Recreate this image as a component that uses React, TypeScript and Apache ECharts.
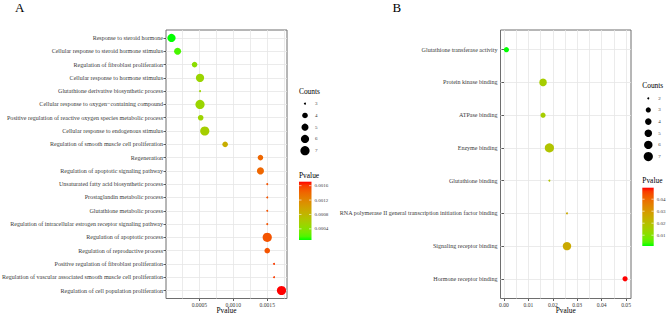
import React, { useEffect, useRef } from "react";
import * as echarts from "echarts";

// ---------- data ----------
const catsA = [
  "Response to steroid hormone",
  "Cellular response to steroid hormone stimulus",
  "Regulation of fibroblast proliferation",
  "Cellular response to hormone stimulus",
  "Glutathione derivative biosynthetic process",
  "Cellular response to oxygen−containing compound",
  "Positive regulation of reactive oxygen species metabolic process",
  "Cellular response to endogenous stimulus",
  "Regulation of smooth muscle cell proliferation",
  "Regeneration",
  "Regulation of apoptotic signaling pathway",
  "Unsaturated fatty acid biosynthetic process",
  "Prostaglandin metabolic process",
  "Glutathione metabolic process",
  "Regulation of intracellular estrogen receptor signaling pathway",
  "Regulation of apoptotic process",
  "Regulation of reproductive process",
  "Positive regulation of fibroblast proliferation",
  "Regulation of vascular associated smooth muscle cell proliferation",
  "Regulation of cell population proliferation",
];
const pvalA = [
  0.00009, 0.00018, 0.00043, 0.00051, 0.00051, 0.00051, 0.00052, 0.00058, 0.00088, 0.0014,
  0.0014, 0.0015, 0.0015, 0.0015, 0.0015, 0.0015, 0.0015, 0.0016, 0.0016, 0.00171,
];
const countA = [6, 5, 4, 6, 3, 7, 4, 7, 4, 4, 5, 3, 3, 3, 3, 7, 4, 3, 3, 7];

const catsB = [
  "Glutathione transferase activity",
  "Protein kinase binding",
  "ATPase binding",
  "Enzyme binding",
  "Glutathione binding",
  "RNA polymerase II general transcription initiation factor binding",
  "Signaling receptor binding",
  "Hormone receptor binding",
];
const pvalB = [0.001, 0.016, 0.016, 0.0186, 0.0186, 0.0258, 0.0258, 0.0496];
const countB = [3, 5, 3, 7, 2, 2, 6, 3];

const xTicksA = [0.0005, 0.001, 0.0015];
const xGridA = [0.00025, 0.0005, 0.00075, 0.001, 0.00125, 0.0015, 0.00175];
const xTicksB = [0, 0.01, 0.02, 0.03, 0.04, 0.05];
const xGridB = [0, 0.005, 0.01, 0.015, 0.02, 0.025, 0.03, 0.035, 0.04, 0.045, 0.05];

const sizeLegendA = [3, 4, 5, 6, 7];
const sizeLegendB = [2, 3, 4, 5, 6, 7];
const colorTicksA = [0.0004, 0.0008, 0.0012, 0.0016];
const colorTicksB = [0.01, 0.02, 0.03, 0.04];

// ---------- helpers ----------
const FONT = '"Liberation Serif", "DejaVu Serif", serif';

function toLin(c: number) {
  c /= 255;
  return c <= 0.04045 ? c / 12.92 : Math.pow((c + 0.055) / 1.055, 2.4);
}
function toSrgb(c: number) {
  const v = c <= 0.0031308 ? 12.92 * c : 1.055 * Math.pow(Math.max(c, 0), 1 / 2.4) - 0.055;
  return Math.round(Math.max(0, Math.min(1, v)) * 255);
}
function rgb2lab(rgb: number[]) {
  const R = toLin(rgb[0]), G = toLin(rgb[1]), B = toLin(rgb[2]);
  const X = (0.4124 * R + 0.3576 * G + 0.1805 * B) / 0.95047;
  const Y = 0.2126 * R + 0.7152 * G + 0.0722 * B;
  const Z = (0.0193 * R + 0.1192 * G + 0.9505 * B) / 1.08883;
  const f = (t: number) => (t > 0.008856 ? Math.cbrt(t) : 7.787 * t + 16 / 116);
  const fx = f(X), fy = f(Y), fz = f(Z);
  return [116 * fy - 16, 500 * (fx - fy), 200 * (fy - fz)];
}
function lab2rgb(lab: number[]) {
  const fy = (lab[0] + 16) / 116, fx = fy + lab[1] / 500, fz = fy - lab[2] / 200;
  const fi = (t: number) => {
    const t3 = t * t * t;
    return t3 > 0.008856 ? t3 : (t - 16 / 116) / 7.787;
  };
  const X = fi(fx) * 0.95047, Y = fi(fy), Z = fi(fz) * 1.08883;
  const R = 3.2406 * X - 1.5372 * Y - 0.4986 * Z;
  const G = -0.9689 * X + 1.8758 * Y + 0.0415 * Z;
  const B = 0.0557 * X - 0.204 * Y + 1.057 * Z;
  return `rgb(${toSrgb(R)},${toSrgb(G)},${toSrgb(B)})`;
}
const LOW = rgb2lab([0, 255, 0]);
const HIGH = rgb2lab([255, 0, 0]);
const NSTOP = 16;
const gradColors: string[] = [];
for (let i = 0; i <= NSTOP; i++) {
  const t = i / NSTOP;
  gradColors.push(lab2rgb([0, 1, 2].map((k) => LOW[k] + (HIGH[k] - LOW[k]) * t)));
}

function expand(arr: number[]) {
  const mn = Math.min(...arr), mx = Math.max(...arr);
  const r = mx - mn;
  return [mn - 0.05 * r, mx + 0.05 * r];
}
function sizeFn(c: number, cmin: number, cmax: number) {
  const s = 1 + 5 * Math.sqrt((c - cmin) / (cmax - cmin));
  return 0.5 + 1.45 * s;
}

const GRID_COLOR = "#e6e6e6";
const FRAME_COLOR = "#6e6e6e";
const TEXT_COLOR = "#3a3a3a";

function buildAxes(
  gridIndex: number,
  cats: string[],
  pvals: number[],
  ticks: number[],
  gridVals: number[],
  digits: number
) {
  const [xmin, xmax] = expand(pvals);
  const idx = cats.map((_, i) => i);
  const xGridAxis = {
    type: "value",
    gridIndex,
    position: "bottom",
    min: xmin,
    max: xmax,
    axisLine: { show: false },
    axisTick: { show: false, customValues: gridVals },
    axisLabel: { show: false },
    splitLine: { show: true, lineStyle: { color: GRID_COLOR, width: 0.8 } },
  };
  const xLabelAxis = {
    type: "value",
    gridIndex,
    position: "bottom",
    min: xmin,
    max: xmax,
    axisLine: { show: false },
    axisTick: { show: true, customValues: ticks, length: 2.5, lineStyle: { color: "#333", width: 0.8 } },
    axisLabel: {
      customValues: ticks,
      formatter: (v: number) => v.toFixed(digits),
      fontFamily: FONT,
      fontSize: 5.6,
      color: TEXT_COLOR,
      margin: 3,
    },
    splitLine: { show: false },
    name: "Pvalue",
    nameLocation: "middle",
    nameGap: 12.3,
    nameMoveOverlap: false,
    nameTextStyle: { fontFamily: FONT, fontSize: 7.3, color: "#000", verticalAlign: "middle" },
  };
  const yAxis = {
    type: "value",
    gridIndex,
    inverse: true,
    min: -0.6,
    max: cats.length - 1 + 0.6,
    axisLine: { show: false },
    axisTick: { show: true, customValues: idx, length: 2.5, lineStyle: { color: "#333", width: 0.8 } },
    axisLabel: {
      customValues: idx,
      formatter: (v: number) => cats[Math.round(v)] ?? "",
      fontFamily: FONT,
      fontSize: 6.05,
      color: TEXT_COLOR,
      margin: 3,
    },
    splitLine: { show: true, lineStyle: { color: GRID_COLOR, width: 0.8 } },
  };
  return { xGridAxis, xLabelAxis, yAxis };
}

function legendGraphics(
  x0: number,
  countsTitleY: number,
  sizes: number[],
  itemY0: number,
  itemStep: number,
  cmin: number,
  cmax: number,
  pTitleY: number,
  barTop: number,
  barBottom: number,
  barWidth: number,
  colorTicks: number[],
  pmin: number,
  pmax: number,
  colorDigits: number
) {
  const els: any[] = [];
  els.push({
    type: "text",
    x: x0,
    y: countsTitleY,
    style: { text: "Counts", font: `7.4px ${FONT}`, fill: "#000", verticalAlign: "middle" },
  });
  sizes.forEach((c, i) => {
    const cy = itemY0 + i * itemStep;
    const d = sizeFn(c, cmin, cmax);
    els.push({ type: "circle", shape: { cx: x0 + 6, cy, r: d / 2 }, style: { fill: "#000" } });
    els.push({
      type: "text",
      x: x0 + 16,
      y: cy,
      style: { text: String(c), font: `5px ${FONT}`, fill: TEXT_COLOR, verticalAlign: "middle" },
    });
  });
  els.push({
    type: "text",
    x: x0,
    y: pTitleY,
    style: { text: "Pvalue", font: `7.4px ${FONT}`, fill: "#000", verticalAlign: "middle" },
  });
  els.push({
    type: "rect",
    shape: { x: x0, y: barTop, width: barWidth, height: barBottom - barTop },
    style: {
      fill: {
        type: "linear",
        x: 0,
        y: 1,
        x2: 0,
        y2: 0,
        colorStops: gradColors.map((c, i) => ({ offset: i / (gradColors.length - 1), color: c })),
      },
    },
  });
  colorTicks.forEach((v) => {
    const y = barBottom - ((v - pmin) / (pmax - pmin)) * (barBottom - barTop);
    els.push({
      type: "line",
      shape: { x1: x0, y1: y, x2: x0 + barWidth / 5, y2: y },
      style: { stroke: "#fff", lineWidth: 0.6 },
    });
    els.push({
      type: "line",
      shape: { x1: x0 + barWidth - barWidth / 5, y1: y, x2: x0 + barWidth, y2: y },
      style: { stroke: "#fff", lineWidth: 0.6 },
    });
    els.push({
      type: "text",
      x: x0 + barWidth + 3,
      y,
      style: { text: v.toFixed(colorDigits), font: `5px ${FONT}`, fill: TEXT_COLOR, verticalAlign: "middle" },
    });
  });
  return els;
}

export default function App() {
  const ref = useRef<HTMLDivElement>(null);
  useEffect(() => {
    document.body.style.margin = "0";
    if (!ref.current) return;
    const chart = echarts.init(ref.current, undefined, { renderer: "svg" });
    const A = buildAxes(0, catsA, pvalA, xTicksA, xGridA, 4);
    const B = buildAxes(1, catsB, pvalB, xTicksB, xGridB, 2);
    const cminA = Math.min(...countA), cmaxA = Math.max(...countA);
    const cminB = Math.min(...countB), cmaxB = Math.max(...countB);
    const pminA = Math.min(...pvalA), pmaxA = Math.max(...pvalA);
    const pminB = Math.min(...pvalB), pmaxB = Math.max(...pvalB);

    const gridCommon = {
      show: true,
      borderColor: FRAME_COLOR,
      borderWidth: 1,
      backgroundColor: "transparent",
      containLabel: false,
      outerBoundsMode: "none",
    };
    const option: any = {
      animation: false,
      backgroundColor: "#fff",
      grid: [
        { ...gridCommon, left: 166, top: 30, width: 121, height: 268.5 },
        { ...gridCommon, left: 500.5, top: 30, width: 130.5, height: 268.5 },
      ],
      xAxis: [A.xGridAxis, A.xLabelAxis, B.xGridAxis, B.xLabelAxis],
      yAxis: [A.yAxis, B.yAxis],
      visualMap: [
        { type: "continuous", show: false, seriesIndex: 0, dimension: 0, min: pminA, max: pmaxA, inRange: { color: gradColors } },
        { type: "continuous", show: false, seriesIndex: 1, dimension: 0, min: pminB, max: pmaxB, inRange: { color: gradColors } },
      ],
      series: [
        {
          type: "scatter",
          xAxisIndex: 0,
          yAxisIndex: 0,
          data: pvalA.map((p, i) => [p, i, countA[i]]),
          symbolSize: (d: number[]) => sizeFn(d[2], cminA, cmaxA),
          itemStyle: { opacity: 1 },
          z: 5,
        },
        {
          type: "scatter",
          xAxisIndex: 2,
          yAxisIndex: 1,
          data: pvalB.map((p, i) => [p, i, countB[i]]),
          symbolSize: (d: number[]) => sizeFn(d[2], cminB, cmaxB),
          itemStyle: { opacity: 1 },
          z: 5,
        },
      ],
      graphic: [
        { type: "text", x: 15, y: 1, style: { text: "A", font: `13px ${FONT}`, fill: "#000" } },
        { type: "text", x: 392.5, y: 1, style: { text: "B", font: `13px ${FONT}`, fill: "#000" } },
        ...legendGraphics(299, 91, sizeLegendA, 103.7, 11.75, cminA, cmaxA, 175, 181.7, 240, 12.5, colorTicksA, pminA, pmaxA, 4),
        ...legendGraphics(642.3, 85, sizeLegendB, 98.3, 11.65, cminB, cmaxB, 180.7, 187.7, 246, 11.4, colorTicksB, pminB, pmaxB, 2),
      ],
    };
    chart.setOption(option);
    return () => chart.dispose();
  }, []);
  return <div ref={ref} style={{ width: 669, height: 314 }} />;
}
